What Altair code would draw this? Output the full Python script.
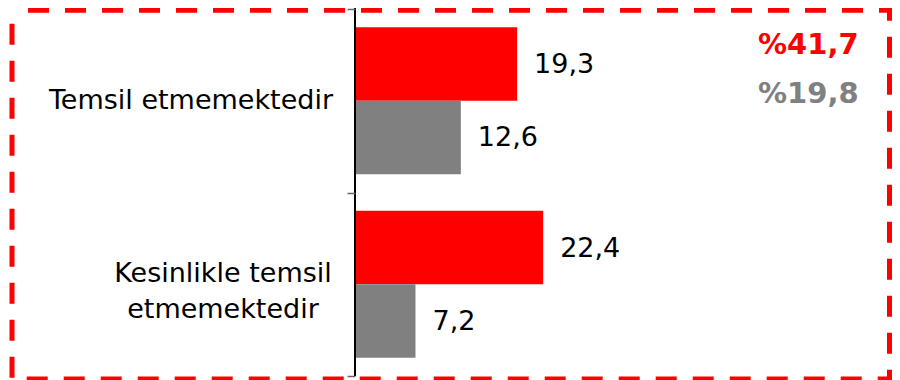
import altair as alt
import pandas as pd

# ---- data -------------------------------------------------------------
categories = ["Temsil etmemektedir", "Kesinlikle temsil etmemektedir"]
category_text = ["Temsil etmemektedir", "Kesinlikle temsil\netmemektedir"]
series = ["Seri 1", "Seri 2"]
red_values = [19.3, 22.4]
gray_values = [12.6, 7.2]
colors = ["#FF0000", "#808080"]


def tr(v):
    return f"{v:.1f}".replace(".", ",")


rows = []
for i, c in enumerate(categories):
    for s, vals in zip(series, [red_values, gray_values]):
        rows.append({"category": c, "series": s, "value": vals[i], "label": tr(vals[i])})
df = pd.DataFrame(rows)

totals = [sum(red_values), sum(gray_values)]
total_labels = ["%" + tr(t) for t in totals]

cat_df = pd.DataFrame({"category": categories, "text": category_text})
one = pd.DataFrame({"k": [0]})

FONT = "DejaVu Sans"
FS = 27
W, H = 504, 367

y_enc = alt.Y(
    "category:N",
    sort=categories,
    scale=alt.Scale(paddingInner=0, paddingOuter=0),
    axis=alt.Axis(
        labels=False, domain=False, ticks=True, tickBand="extent", tickSize=8,
        tickColor="#666666", tickWidth=1.5, title=None, grid=False, zindex=2,
    ),
)
x_enc = alt.X("value:Q", scale=alt.Scale(domain=[0, 60]), axis=None)
yoff = alt.YOffset("series:N", sort=series,
                   scale=alt.Scale(paddingInner=0, paddingOuter=0.25))

border = alt.Chart(one).mark_rect(
    fill="transparent", stroke="#FF0000", strokeWidth=5,
    strokeDash=[21, 16], strokeDashOffset=21,
).encode(x=alt.value(-343), x2=alt.value(534.5), y=alt.value(1.3), y2=alt.value(370))

bars = alt.Chart(df).mark_bar().encode(
    y=y_enc,
    x=x_enc,
    yOffset=yoff,
    color=alt.Color("series:N", scale=alt.Scale(domain=series, range=colors), legend=None),
)

values_txt = alt.Chart(df).mark_text(
    align="left", baseline="middle", dx=17, dy=1, font=FONT, fontSize=FS, color="black"
).encode(y=y_enc, x=x_enc, yOffset=yoff, text="label:N")

# category labels (left of axis)
cat1 = alt.Chart(cat_df).transform_filter(
    alt.datum.category == categories[0]
).mark_text(
    align="right", baseline="middle", font=FONT, fontSize=FS, color="black", lineBreak="\n"
).encode(y=y_enc, x=alt.value(-22), text="text:N")

cat2 = alt.Chart(cat_df).transform_filter(
    alt.datum.category == categories[1]
).mark_text(
    align="center", baseline="middle", font=FONT, fontSize=FS, color="black",
    lineBreak="\n", lineHeight=36, dy=-10,
).encode(y=y_enc, x=alt.value(-132), text="text:N")

axis_line = alt.Chart(one).mark_rule(color="black", strokeWidth=2).encode(
    x=alt.value(0), y=alt.value(-9), y2=alt.value(H)
)

tot_layers = []
for lbl, col, yy in zip(total_labels, colors, [45, 94]):
    tot_layers.append(
        alt.Chart(one).mark_text(
            align="left", baseline="alphabetic", font=FONT, fontSize=29,
            fontWeight="bold", color=col,
        ).encode(x=alt.value(403), y=alt.value(yy), text=alt.value(lbl))
    )

chart = alt.layer(
    border, bars, values_txt, cat1, cat2, axis_line, *tot_layers
).properties(
    width=W, height=H,
    autosize=alt.AutoSizeParams(type="none"),
    padding={"left": 347, "top": 1, "right": 33, "bottom": 4},
).configure(font=FONT).configure_view(strokeWidth=0)

chart.save("out.html", embed_options={"renderer": "svg", "actions": False})
